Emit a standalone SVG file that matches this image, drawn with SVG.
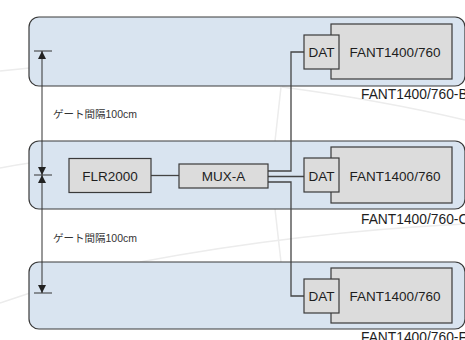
<svg xmlns="http://www.w3.org/2000/svg" width="465" height="340" viewBox="0 0 465 340">
<style>
.band{fill:#d9e4f0;stroke:#3a3a3a;stroke-width:1.2}
.box{fill:#dcdcdc;stroke:#3a3a3a;stroke-width:1.2}
.t{font-family:"Liberation Sans",Arial,sans-serif;font-size:13.5px;fill:#1e1e1e;text-anchor:middle}
.lbl{font-family:"Liberation Sans",Arial,sans-serif;font-size:13.8px;fill:#1e1e1e}
.jp{font-family:"Liberation Sans","Noto Sans CJK JP",sans-serif;font-size:10.5px;fill:#333}
.ln{fill:none;stroke:#444;stroke-width:1.3}
.faint{fill:none;stroke:#ececec;stroke-width:1.5}
.dim{fill:none;stroke:#333;stroke-width:1}
</style>
<defs>
<marker id="ah" viewBox="0 0 10 10" refX="10" refY="5" markerWidth="8" markerHeight="8" markerUnits="userSpaceOnUse" orient="auto-start-reverse"><path d="M0,0 L10,5 L0,10 z" fill="#222"/></marker>
</defs>
<rect width="465" height="340" fill="#fff"/>
<g id="background">
<path class="faint" d="M0,71 L30,68"/>
<path class="faint" d="M0,168 Q15,165 30,163"/>
<path class="faint" d="M282,87 Q380,100 465,120"/>
<path class="faint" d="M281,87 L275,141"/>
<path class="faint" d="M275,209 L281,262"/>
<path class="faint" d="M140,262 Q300,232 465,224"/>
<path class="faint" d="M0,303 L30,293"/>
</g>
<g id="band-b"><rect class="band" x="29" y="17" width="436" height="69" rx="10"/></g>
<g id="band-c"><rect class="band" x="29" y="141" width="436" height="68" rx="10"/></g>
<g id="band-f"><rect class="band" x="29" y="262" width="436" height="67" rx="10"/></g>
<g id="dimension">
<line class="dim" x1="34" y1="51" x2="52" y2="51"/>
<line class="dim" x1="34" y1="175" x2="52" y2="175"/>
<line class="dim" x1="34" y1="293" x2="52" y2="293"/>
<line class="dim" x1="42" y1="51" x2="42" y2="175" marker-start="url(#ah)" marker-end="url(#ah)"/>
<line class="dim" x1="42" y1="175" x2="42" y2="293" marker-start="url(#ah)" marker-end="url(#ah)"/>
<text class="jp" x="53" y="118">ゲート間隔100cm</text>
<text class="jp" x="53" y="242">ゲート間隔100cm</text>
</g>
<g id="connectors">
<line class="ln" x1="151" y1="175.5" x2="179" y2="175.5"/>
<path class="ln" d="M268,171 H291 V52 H304"/>
<path class="ln" d="M268,176.5 H304"/>
<path class="ln" d="M268,182 H291 V296 H304"/>
</g>
<g id="flr2000"><rect class="box" x="69" y="158.5" width="82" height="34"/><text class="t" x="110" y="181">FLR2000</text></g>
<g id="mux-a"><rect class="box" x="179" y="164" width="89" height="24"/><text class="t" x="223.5" y="181">MUX-A</text></g>
<g id="fant-b">
<rect class="box" x="331" y="24" width="121" height="55"/>
<rect class="box" x="304" y="35" width="35" height="34"/>
<text class="t" x="321.5" y="57">DAT</text>
<text class="t" x="395" y="57">FANT1400/760</text>
<text class="lbl" x="361" y="99">FANT1400/760-B</text>
</g>
<g id="fant-c">
<rect class="box" x="331" y="147" width="121" height="56"/>
<rect class="box" x="304" y="158" width="35" height="34"/>
<text class="t" x="321.5" y="180.5">DAT</text>
<text class="t" x="395" y="180.5">FANT1400/760</text>
<text class="lbl" x="361" y="224">FANT1400/760-C</text>
</g>
<g id="fant-f">
<rect class="box" x="331" y="268" width="121" height="55"/>
<rect class="box" x="304" y="279" width="35" height="34"/>
<text class="t" x="321.5" y="301">DAT</text>
<text class="t" x="395" y="301">FANT1400/760</text>
<text class="lbl" x="361" y="342">FANT1400/760-F</text>
</g>
</svg>
